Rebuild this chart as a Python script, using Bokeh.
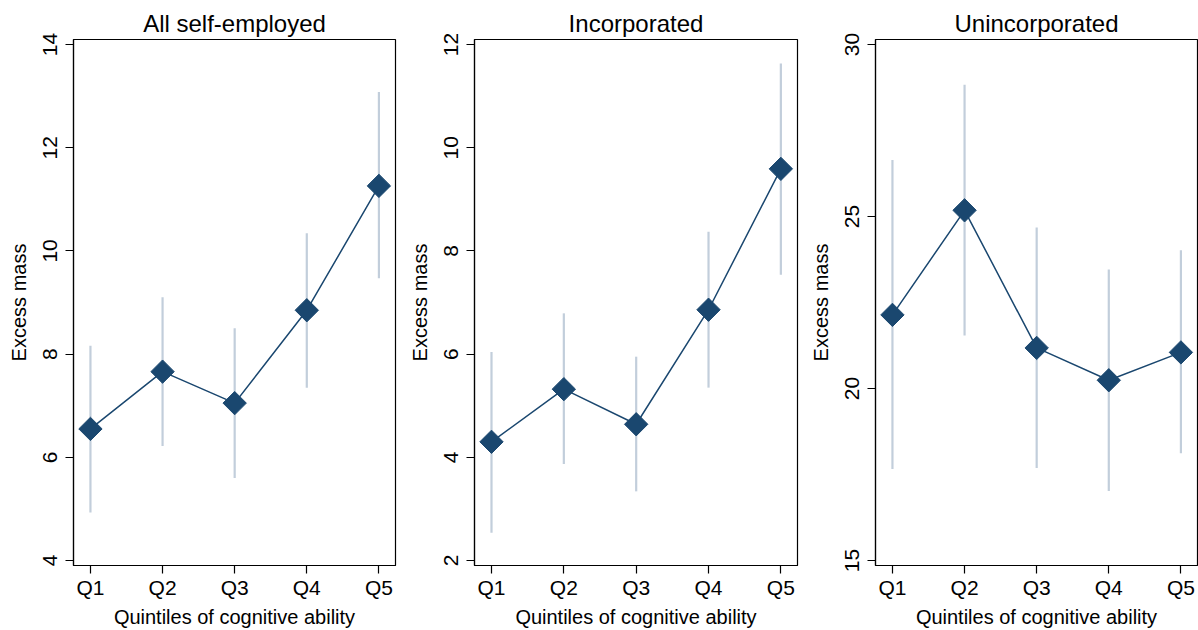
from bokeh.plotting import figure
from bokeh.layouts import row
from bokeh.models import Range1d, FixedTicker, ColumnDataSource
from bokeh.embed import file_html
from bokeh.resources import INLINE
import math

categories = ["Q1", "Q2", "Q3", "Q4", "Q5"]

all_est = [6.55, 7.66, 7.05, 8.85, 11.26]
all_lo = [4.93, 6.22, 5.60, 7.35, 9.47]
all_hi = [8.16, 9.10, 8.50, 10.34, 13.08]

inc_est = [4.30, 5.32, 4.64, 6.86, 9.59]
inc_lo = [2.54, 3.87, 3.34, 5.35, 7.54]
inc_hi = [6.04, 6.79, 5.95, 8.37, 11.63]

uninc_est = [22.14, 25.18, 21.18, 20.24, 21.05]
uninc_lo = [17.66, 21.54, 17.69, 17.02, 18.12]
uninc_hi = [26.64, 28.83, 24.68, 23.46, 24.02]

titles = ["All self-employed", "Incorporated", "Unincorporated"]
yticks_all = [4, 6, 8, 10, 12, 14]
yticks_inc = [2, 4, 6, 8, 10, 12]
yticks_uninc = [15, 20, 25, 30]
x_title = "Quintiles of cognitive ability"
y_title = "Excess mass"

NAVY = "#1a476f"
CI = "#c2cedb"
FONT = "Liberation Sans"


def make_panel(title, est, lo, hi, yticks, width, mbl, mbr):
    span = yticks[-1] - yticks[0]
    pad = span * 0.0097
    p = figure(width=width, height=630, output_backend="svg", toolbar_location=None,
               x_range=Range1d(0.765, 5.23),
               y_range=Range1d(yticks[0] - pad, yticks[-1] + pad),
               min_border_left=mbl, min_border_right=mbr,
               min_border_top=39, min_border_bottom=64)
    xs = list(range(1, len(categories) + 1))
    src = ColumnDataSource(dict(x=xs, est=est, lo=lo, hi=hi))
    p.segment(x0="x", y0="lo", x1="x", y1="hi", source=src, line_color=CI, line_width=2.2)
    p.line(x="x", y="est", source=src, line_color=NAVY, line_width=1.5)
    p.scatter(x="x", y="est", source=src, marker="square", size=16.5, angle=math.pi / 4,
              fill_color=NAVY, line_color=NAVY, line_width=1)

    p.title.text = title
    p.title.align = "center"
    p.title.text_font = FONT
    p.title.text_font_size = "24px"
    p.title.text_font_style = "normal"
    p.title.text_color = "black"
    p.title.standoff = 5

    p.xgrid.visible = False
    p.ygrid.visible = False
    p.outline_line_color = "black"
    p.outline_line_width = 1.2
    p.background_fill_color = "white"
    p.border_fill_color = "white"

    xa = p.xaxis[0]
    xa.ticker = FixedTicker(ticks=xs)
    xa.major_label_overrides = {i + 1: c for i, c in enumerate(categories)}
    ya = p.yaxis[0]
    ya.ticker = FixedTicker(ticks=yticks)
    ya.major_label_orientation = "parallel"
    for ax, lab in ((xa, x_title), (ya, y_title)):
        ax.axis_label = lab
        ax.axis_label_text_font = FONT
        ax.axis_label_text_font_size = "20px"
        ax.axis_label_text_font_style = "normal"
        ax.axis_label_text_color = "black"
        ax.major_label_text_font = FONT
        ax.major_label_text_font_size = "21px"
        ax.major_label_text_color = "black"
        ax.axis_line_color = "black"
        ax.axis_line_width = 1.2
        ax.major_tick_line_color = "black"
        ax.major_tick_line_width = 1.2
        ax.major_tick_out = 8
        ax.major_tick_in = 0
        ax.minor_tick_line_color = None
    xa.major_label_standoff = 2
    xa.axis_label_standoff = 4
    ya.major_label_standoff = 8
    ya.axis_label_standoff = 11
    return p


p1 = make_panel(titles[0], all_est, all_lo, all_hi, yticks_all, 400, 73, 5)
p2 = make_panel(titles[1], inc_est, inc_lo, inc_hi, yticks_inc, 400, 74, 3)
p3 = make_panel(titles[2], uninc_est, uninc_lo, uninc_hi, yticks_uninc, 398, 75, 1)

layout = row(p1, p2, p3)
open("out.html", "w").write(file_html(layout, INLINE))
